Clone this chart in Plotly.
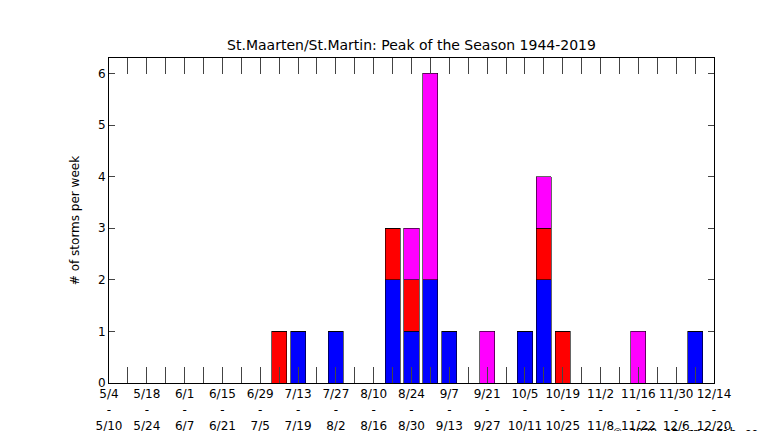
import plotly.graph_objects as go

weeks = ["5/4","5/11","5/18","5/25","6/1","6/8","6/15","6/22","6/29","7/6","7/13","7/20","7/27","8/3","8/10","8/17","8/24","8/31","9/7","9/14","9/21","9/28","10/5","10/12","10/19","10/26","11/2","11/9","11/16","11/23","11/30","12/7","12/14"]
ends = ["5/10","5/17","5/24","5/31","6/7","6/14","6/21","6/28","7/5","7/12","7/19","7/26","8/2","8/9","8/16","8/23","8/30","9/6","9/13","9/20","9/27","10/4","10/11","10/18","10/25","11/1","11/8","11/15","11/22","11/29","12/6","12/13","12/20"]
blue = {10:1, 12:1, 15:2, 16:1, 17:2, 18:1, 22:1, 23:2, 31:1}
red = {9:1, 15:1, 16:1, 23:1, 24:1}
magenta = {16:1, 17:4, 20:1, 23:1, 28:1}

x = list(range(len(weeks)))
fig = go.Figure()
for d, c in [(blue, "#0000ff"), (red, "#ff0000"), (magenta, "#ff00ff")]:
    fig.add_trace(go.Bar(x=x, y=[d.get(i, 0) for i in x], marker=dict(color=c, line=dict(color="black", width=0.6)), width=0.8))
ticktext = [f"{weeks[i]}<br>-<br>{ends[i]}" if i % 2 == 0 else "" for i in x]
fig.update_layout(
    barmode="stack", showlegend=False, width=766, height=431,
    plot_bgcolor="white", paper_bgcolor="white",
    margin=dict(l=101, r=60, t=50, b=56, autoexpand=False),
    font=dict(family="DejaVu Sans", size=12, color="black"),
    title=dict(text="St.Maarten/St.Martin: Peak of the Season 1944-2019", x=0.5, xref="paper", y=0.925, xanchor="center", font=dict(size=14)),
    xaxis=dict(range=[0, 32], tickvals=x, ticktext=ticktext, ticks="inside", ticklen=16, mirror="allticks",
               showline=True, linecolor="black", linewidth=1, showgrid=False, tickangle=0, zeroline=False,
               automargin=False),
    yaxis=dict(range=[0, 6.3], dtick=1, ticks="inside", ticklen=6, mirror="allticks", showline=True,
               linecolor="black", linewidth=1, showgrid=False, zeroline=False, automargin=False,
               title=dict(text="# of storms per week", font=dict(size=12), standoff=15)),
    annotations=[dict(text="© 2020 stormcarib.com", xref="paper", yref="paper", x=1.09, y=-0.155,
                      xanchor="right", yanchor="middle", showarrow=False, font=dict(family="DejaVu Sans Mono", size=12))]
)
fig.write_html("out.html")
